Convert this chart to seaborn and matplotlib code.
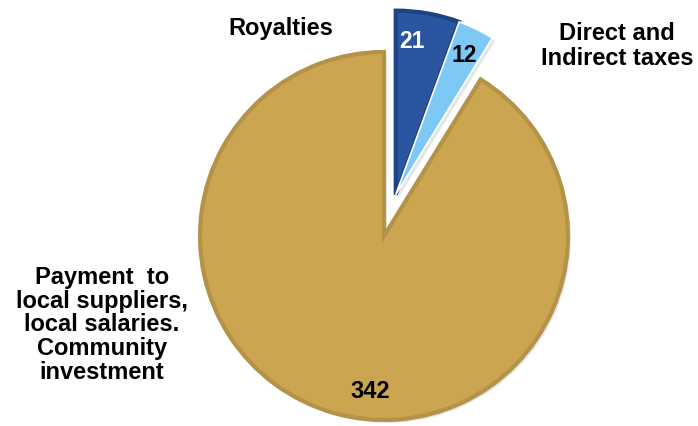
import numpy as np
import matplotlib
matplotlib.use("Agg")
import matplotlib.pyplot as plt
import matplotlib.patheffects as pe
import seaborn as sns

# ---- data ----
categories = ["Royalties", "Direct and\nIndirect taxes",
              "Payment  to\nlocal suppliers,\nlocal salaries.\nCommunity\ninvestment"]
values = [21, 12, 342]
value_labels = ["21", "12", "342"]
colors = ["#2A55A0", "#7DC8F5", "#CBA54F"]
edge_colors = ["#1F4282", "#5FA8D8", "#B49248"]

sns.set_theme(style="white")
plt.rcParams["font.family"] = ["Liberation Sans", "DejaVu Sans"]

W, H = 698, 427
fig = plt.figure(figsize=(W / 100, H / 100), dpi=100)
ax = fig.add_axes([0, 0, 1, 1])

cx, cy, r = 384, H - 237, 184
wedges, _ = ax.pie(values, startangle=90, counterclock=False,
                   colors=colors, radius=r, center=(cx, cy),
                   wedgeprops=dict(linewidth=3))
for w, ec in zip(wedges, edge_colors):
    w.set_edgecolor(ec)
    w.set_path_effects([pe.SimplePatchShadow(offset=(2, -2), alpha=0.2,
                                             shadow_rgbFace="#808080"),
                        pe.Normal()])

# explode the two small slices together along their common bisector
mid = np.deg2rad((wedges[0].theta2 + wedges[1].theta1) / 2)
dist = 43
dx, dy = dist * np.cos(mid), dist * np.sin(mid)
for w in wedges[:2]:
    w.set_center((cx + dx, cy + dy))
# thin white separation between the two small slices
wedges[1].set_edgecolor("white")
wedges[1].set_linewidth(1.2)
wedges[0].set_zorder(2)
wedges[1].set_zorder(3)

ax.set_xlim(0, W)
ax.set_ylim(0, H)
ax.set_aspect("equal")
ax.axis("off")

fs = 17
# category labels
ax.text(281, H - 29, categories[0], ha="center", va="center",
        fontsize=fs, fontweight="bold", color="black")
ax.text(617, H - 46, categories[1], ha="center", va="center",
        fontsize=fs, fontweight="bold", color="black", linespacing=1.1)
ax.text(102, H - 325, categories[2], ha="center", va="center",
        fontsize=fs, fontweight="bold", color="black", linespacing=1.05)

# value labels
ax.text(412, H - 41, value_labels[0], ha="center", va="center",
        fontsize=16.5, fontweight="bold", color="white", zorder=5)
ax.text(464, H - 55, value_labels[1], ha="center", va="center",
        fontsize=16.5, fontweight="bold", color="black", zorder=5)
ax.text(370, H - 392, value_labels[2], ha="center", va="center",
        fontsize=fs, fontweight="bold", color="black", zorder=5)

fig.savefig("out.png", dpi=100, facecolor="white")
